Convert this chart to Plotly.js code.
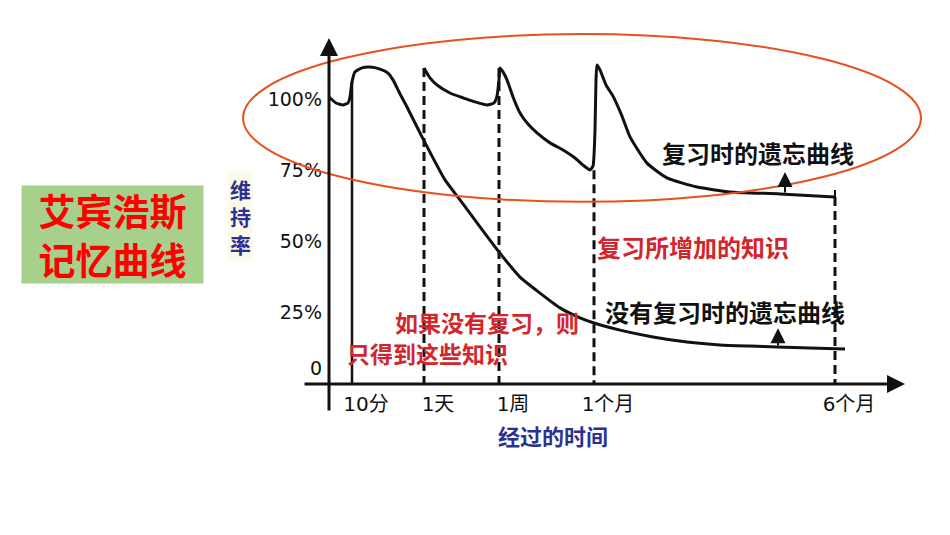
<!DOCTYPE html>
<html>
<head>
<meta charset="utf-8">
<script src="https://cdn.plot.ly/plotly-3.0.1.min.js"></script>
<style>
  body { margin: 0; background: #fff; }
  #chart { width: 950px; height: 535px; }
</style>
</head>
<body>
<div id="chart"></div>
<script>
// time axis: schematic positions of the review moments
var timeLabels = ['10分', '1天', '1周', '1个月', '6个月'];
var timePos = [23, 95, 170, 265, 506];

var retentionLabels = ['0', '25%', '50%', '75%', '100%'];
var retentionVals = [5.6, 25, 50, 75, 100];

// forgetting curve without review (the first hump is shared)
var noReviewX = [0, 7, 14, 19, 21, 23, 26, 33, 41, 51, 59, 64, 71, 78, 93, 116, 131, 151, 170, 191, 211, 231, 251, 265, 291, 324, 358, 391, 421, 448, 481, 516];
var noReviewY = [100.7, 98.6, 97.9, 98.6, 100.7, 106, 109.5, 110.9, 111.2, 110.5, 109.1, 106.7, 101.8, 97.2, 86.7, 71.6, 64.6, 55.1, 46.3, 37.5, 31.9, 26.7, 23.2, 21.4, 18.9, 16.5, 14.7, 13.7, 13.3, 13.0, 12.6, 12.3];

// forgetting curve with reviews at 1天, 1周, 1个月
var reviewX = [95, 101, 108, 121, 134, 146, 158, 165, 168, 170, 171, 174, 178, 184, 191, 199, 208, 221, 234, 246, 254, 261, 264, 266, 267, 268, 271, 277, 284, 293, 301, 318, 338, 368, 401, 451, 506];
var reviewY = [110.9, 107.4, 104.9, 102.1, 100.4, 99, 97.9, 98.6, 101, 106.7, 110.9, 109.5, 106.7, 100.7, 95.1, 91.2, 88.1, 84.6, 82.1, 79.3, 76.8, 75.1, 76.5, 89.1, 106.7, 111.9, 110.2, 104.9, 101, 94, 86.7, 77.5, 72.3, 69.1, 67.4, 66.7, 65.6];

// where each vertical guide starts (top), for 10分 and the dashed ones
var guideTop = [106, 110.9, 110.9, 75, 65.6];

var black = '#111111';
var red = '#d3262c';
var blue = '#2b3190';
var cjk = '"Noto Sans CJK SC", sans-serif';

var dashX = [], dashY = [];
for (var i = 1; i < timePos.length; i++) {
  dashX.push(timePos[i], timePos[i], null);
  dashY.push(guideTop[i], 0, null);
}

var traces = [
  {x: dashX, y: dashY, mode: 'lines', line: {color: black, width: 3, dash: '9px,5px'}, hoverinfo: 'skip'},
  {x: [timePos[0], timePos[0]], y: [guideTop[0], 0], mode: 'lines', line: {color: black, width: 2.5}, hoverinfo: 'skip'},
  {x: noReviewX, y: noReviewY, mode: 'lines', line: {color: black, width: 3, shape: 'spline', smoothing: 0.5}, name: '没有复习时的遗忘曲线'},
  {x: reviewX, y: reviewY, mode: 'lines', line: {color: black, width: 3, shape: 'spline', smoothing: 0.5}, name: '复习时的遗忘曲线'},
  {x: [reviewX[reviewX.length - 1]], y: [reviewY[reviewY.length - 1]],
   mode: 'markers', marker: {symbol: 'line-ns', size: 10, line: {color: black, width: 2}}, hoverinfo: 'skip'}
];

function note(text, x, y, color, size) {
  return {x: x, y: y, xref: 'x', yref: 'y', text: text, showarrow: false,
          xanchor: 'center', yanchor: 'middle',
          font: {family: cjk, size: size || 22, color: color, weight: 'bold'}};
}
function arrow(x, y, ax, ay, w, s) {
  return {x: x, y: y, ax: ax, ay: ay, xref: 'x', yref: 'y', axref: 'x', ayref: 'y',
          text: '', showarrow: true, arrowhead: 2, arrowsize: s || 1, arrowwidth: w,
          arrowcolor: black, standoff: 0, startstandoff: 0};
}

var layout = {
  width: 950, height: 535,
  margin: {l: 230, r: 20, t: 25, b: 110},
  paper_bgcolor: '#fff', plot_bgcolor: 'rgba(0,0,0,0)',
  showlegend: false,
  xaxis: {
    range: [-99, 601], anchor: 'free', position: 0.1025,
    showgrid: false, zeroline: false, showline: false, ticks: '',
    tickvals: timePos, ticktext: timeLabels, ticklabelshift: 14, ticklabelstandoff: 6,
    tickfont: {family: 'DejaVu Sans, "Noto Sans CJK SC"', size: 20, color: black}
  },
  yaxis: {
    range: [-14.39, 125.96], anchor: 'free', position: 0.1414,
    showgrid: false, zeroline: false, showline: false, ticks: '',
    tickvals: retentionVals, ticktext: retentionLabels, ticklabelstandoff: 7,
    tickfont: {family: 'DejaVu Sans', size: 19, color: black}
  },
  shapes: [
    {type: 'circle', xref: 'x', yref: 'y', x0: -86, x1: 592, y0: 63.9, y1: 122.8,
     line: {color: '#e8501e', width: 2}, layer: 'above'}
  ],
  annotations: [
    arrow(576, 0, -26, 0, 3, 1.2),
    arrow(0, 121.4, 0, -9.8, 3, 1.2),
    arrow(456, 74.4, 456, 66.7, 2, 1.5),
    arrow(449, 19.6, 449, 13.0, 2, 1.5),
    note('复习时的遗忘曲线', 429, 81.1, black, 24),
    note('没有复习时的遗忘曲线', 396, 25.3, black, 24),
    note('复习所增加的知识', 364, 48.4, red, 24),
    note('如果没有复习，则', 158, 21.6, red, 23),
    note('只得到这些知识', 98, 11.0, red, 23),
    {x: 0.0143, y: 0.5225, xref: 'paper', yref: 'paper', text: '维<br>持<br>率',
     xanchor: 'center', yanchor: 'middle',
     showarrow: false, bgcolor: '#fbf9e8',
     font: {family: cjk, size: 21, color: blue, weight: 'bold'}},
    {x: 0.461, y: -0.025, xref: 'paper', yref: 'paper', text: '经过的时间',
     xanchor: 'center', yanchor: 'middle',
     showarrow: false, font: {family: cjk, size: 22, color: blue, weight: 'bold'}},
    {x: -0.1679, y: 0.476, xref: 'paper', yref: 'paper', text: '艾宾浩斯<br>记忆曲线',
     xanchor: 'center', yanchor: 'middle',
     showarrow: false, width: 179, height: 95, bgcolor: '#a6d08c',
     font: {family: cjk, size: 37, color: '#ff0000', weight: 'bold'}}
  ]
};

Plotly.newPlot('chart', traces, layout, {displayModeBar: false, staticPlot: true});
</script>
</body>
</html>
